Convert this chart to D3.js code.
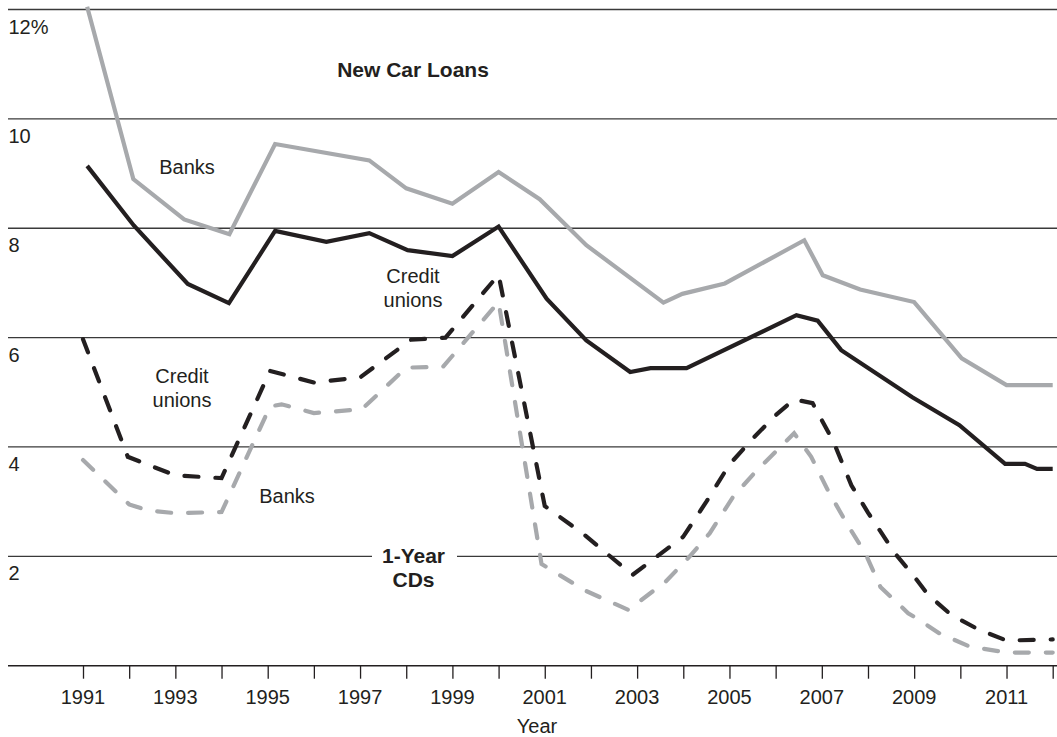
<!DOCTYPE html>
<html><head><meta charset="utf-8">
<script src="https://cdn.jsdelivr.net/npm/d3@7/dist/d3.min.js"></script>
<style>
html,body{margin:0;padding:0;background:#fff;}
svg{display:block;font-family:"Liberation Sans",Arial,sans-serif;}
</style></head>
<body>
<svg id="chart" width="1057" height="737"></svg>
<script>
// ---- data (year, %) ----
const loanBanksYears  = [1991.09,1992.09,1993.19,1994.17,1995.16,1997.2,1998.0,1999.0,2000.0,2000.89,2001.9,2003.57,2003.98,2004.9,2006.62,2007.02,2007.83,2009.0,2010.03,2011.0,2012.0];
const loanBanksValues = [12.05,8.90,8.16,7.89,9.54,9.24,8.73,8.45,9.03,8.53,7.69,6.64,6.80,6.99,7.78,7.14,6.88,6.65,5.62,5.13,5.13];

const loanCUYears  = [1991.09,1992.1,1993.27,1994.16,1995.16,1996.27,1997.2,1998.03,1999.0,2000.0,2001.04,2001.9,2002.85,2003.29,2004.07,2006.45,2006.91,2007.42,2008.96,2009.98,2010.97,2011.4,2011.66,2012.0];
const loanCUValues = [9.14,8.05,6.98,6.63,7.95,7.75,7.91,7.60,7.49,8.03,6.71,5.95,5.37,5.44,5.44,6.41,6.31,5.77,4.91,4.40,3.69,3.69,3.60,3.60];

const cdCUYears  = [1991.0,1991.97,1993.0,1994.0,1995.05,1996.0,1997.0,1998.1,1998.85,2000.0,2001.0,2001.85,2002.9,2004.0,2004.5,2005.0,2005.5,2006.0,2006.4,2006.8,2007.25,2007.64,2008.0,2008.58,2009.0,2009.3,2009.8,2010.4,2011.0,2012.0];
const cdCUValues = [5.97,3.82,3.48,3.43,5.39,5.18,5.27,5.96,6.00,7.15,2.92,2.40,1.66,2.36,3.00,3.68,4.15,4.58,4.87,4.80,4.10,3.30,2.80,2.06,1.63,1.30,0.93,0.66,0.46,0.48];

const cdBanksYears  = [1991.0,1992.0,1992.4,1993.0,1994.0,1995.05,1995.3,1996.0,1997.04,1998.0,1998.8,2000.0,2000.93,2001.86,2002.81,2003.62,2004.13,2004.57,2005.08,2005.6,2006.07,2006.4,2006.77,2007.13,2007.54,2007.94,2008.27,2008.87,2009.05,2009.55,2010.2,2010.87,2011.0,2012.0];
const cdBanksValues = [3.76,2.95,2.84,2.79,2.81,4.74,4.78,4.62,4.69,5.45,5.47,6.65,1.86,1.38,1.02,1.54,1.99,2.42,3.09,3.58,3.97,4.25,3.82,3.21,2.60,2.06,1.44,0.96,0.87,0.59,0.35,0.26,0.24,0.24];

const yTicks = [2,4,6,8,10,12];
const yTickLabels = ["2","4","6","8","10","12%"];
const xTickYears = d3.range(1991, 2013);
const xLabelYears = d3.range(1991, 2012, 2);

// ---- drawing ----
const svg = d3.select("#chart");
const x = d3.scaleLinear().domain([1991, 2012]).range([83, 1052.7]);
const y = d3.scaleLinear().domain([0, 12]).range([665.7, 9.5]);
const INK = "#231f20", GREY = "#a7a9ac";

// gridlines
svg.append("g").selectAll("line").data(yTicks).join("line")
  .attr("x1", 8).attr("x2", 1057)
  .attr("y1", d => y(d)).attr("y2", d => y(d))
  .attr("stroke", "#3a3a3a").attr("stroke-width", 1.3);
// y labels
svg.append("g").selectAll("text").data(yTicks).join("text")
  .attr("x", 8.5).attr("y", d => y(d) + 24)
  .attr("font-size", 20).attr("fill", INK)
  .text((d, i) => yTickLabels[i]);

// x axis
const xAxis = d3.axisBottom(x).tickValues(xTickYears).tickSize(13).tickFormat("");
const gx = svg.append("g").attr("transform", `translate(0,${y(0)})`).call(xAxis);
gx.select(".domain").remove();
gx.selectAll(".tick line").attr("stroke", INK).attr("stroke-width", 1.3);
svg.append("line").attr("x1", 8).attr("x2", 1057).attr("y1", y(0)).attr("y2", y(0))
  .attr("stroke", INK).attr("stroke-width", 1.5);
svg.append("g").selectAll("text").data(xLabelYears).join("text")
  .attr("x", d => x(d)).attr("y", 703.5).attr("text-anchor", "middle")
  .attr("font-size", 20).attr("fill", INK).text(d => d);
svg.append("text").attr("x", 537).attr("y", 733).attr("text-anchor", "middle")
  .attr("font-size", 20).attr("fill", INK).text("Year");

// gap in gridline for "1-Year CDs"
svg.append("rect").attr("x", 372).attr("y", y(2) - 4).attr("width", 85).attr("height", 8).attr("fill", "#fff");

const line = d3.line().x(d => x(d[0])).y(d => y(d[1]));
function series(years, vals, color, dashed) {
  const p = svg.append("path").datum(years.map((yr, i) => [yr, vals[i]]))
    .attr("d", line).attr("fill", "none").attr("stroke", color).attr("stroke-width", 4.2);
  if (dashed) p.attr("stroke-dasharray", "14,17").attr("stroke-linecap", "round");
  return p;
}
series(cdBanksYears, cdBanksValues, GREY, true);
series(cdCUYears, cdCUValues, INK, true);
series(loanBanksYears, loanBanksValues, GREY, false);
series(loanCUYears, loanCUValues, INK, false);

// annotations
function label(lines, cx, baseline, bold) {
  const t = svg.append("text").attr("text-anchor", "middle").attr("font-size", bold ? 21 : 20)
    .attr("font-weight", bold ? "bold" : "normal").attr("fill", INK);
  lines.forEach((s, i) => t.append("tspan").attr("x", cx).attr("y", baseline + i * 23.4).text(s));
}
label(["New Car Loans"], 413, 76.7, true);
label(["Banks"], 187, 174.3, false);
label(["Credit", "unions"], 413, 283.3, false);
label(["Credit", "unions"], 182, 383.3, false);
label(["Banks"], 287, 503.3, false);
label(["1-Year", "CDs"], 413.5, 563.3, true);
</script>
</body></html>
